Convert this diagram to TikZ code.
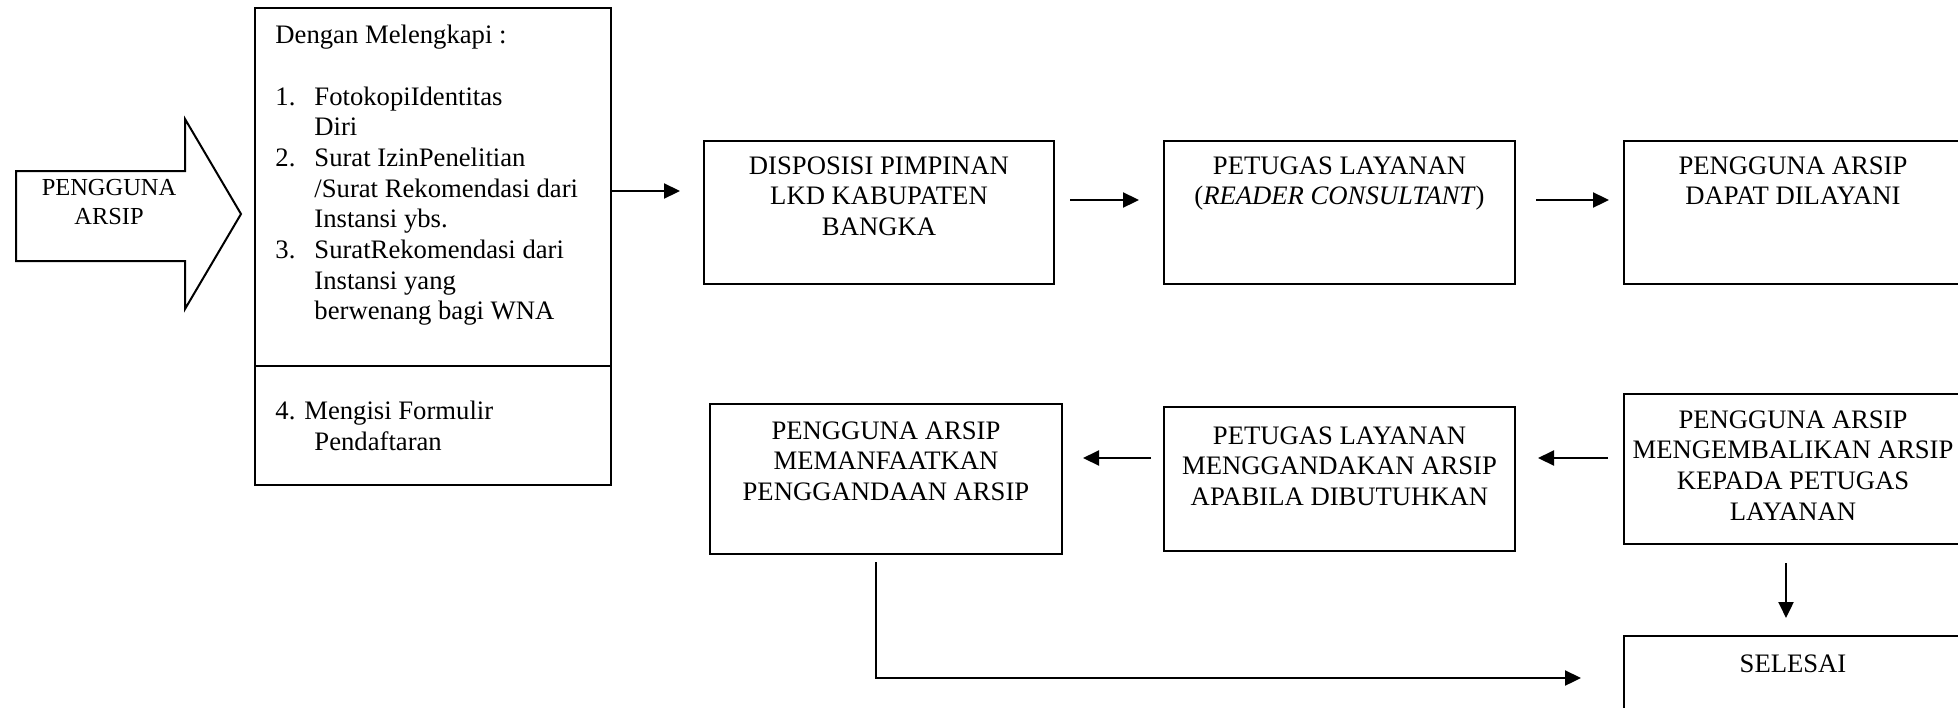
\documentclass[tikz,border=0pt]{standalone}
\usepackage{fontspec}
\setmainfont{Liberation Serif}
\usetikzlibrary{arrows.meta,fit,calc}
\begin{document}
\begin{tikzpicture}[x=0.45pt,y=-0.45pt,
  every node/.style={font=\fontsize{12}{13.8}\selectfont},
  boxnode/.style={draw, line width=0.9pt, inner sep=0pt, rectangle},
  txt/.style={inner sep=0pt, align=center, anchor=north},
  ltxt/.style={inner sep=0pt, align=left, anchor=north west},
  arr/.style={line width=1pt, -{Triangle[length=7.2pt,width=6.75pt]}},
  ln/.style={line width=0.9pt}]
\useasboundingbox (0,0) rectangle (1958,707);

% block arrow
\draw[ln] (16,171) -- (185,171) -- (185,119) -- (241,214) -- (185,309) -- (185,261) -- (16,261) -- cycle;
\node[inner sep=0pt, align=center, font=\fontsize{11}{12.65}\selectfont] (ua) at (109,202) {PENGGUNA\\ARSIP};

% left box
\node[boxnode, fit={(255,8) (611,485)}] (L) {};
\coordinate (dv) at (0,366);
\draw[ln] (L.west |- dv) -- (L.east |- dv);
\node[ltxt] (lt1) at (275,25) {Dengan Melengkapi :\\[13.8pt]
\makebox[17.55pt][l]{1.}FotokopiIdentitas\\
\hspace*{17.55pt}Diri\\
\makebox[17.55pt][l]{2.}Surat IzinPenelitian\\
\hspace*{17.55pt}/Surat Rekomendasi dari\\
\hspace*{17.55pt}Instansi ybs.\\
\makebox[17.55pt][l]{3.}SuratRekomendasi dari\\
\hspace*{17.55pt}Instansi yang\\
\hspace*{17.55pt}berwenang bagi WNA};
\node[ltxt] (lt2) at (275,401) {4. Mengisi Formulir\\
\hspace*{17.55pt}Pendaftaran};

% row 1 boxes
\node[boxnode, fit={(704,141) (1054,284)}] (D) {};
\node[txt] (Dt) at ([yshift=-7.2pt]D.north) {DISPOSISI PIMPINAN\\LKD KABUPATEN\\BANGKA};
\node[boxnode, fit={(1164,141) (1515,284)}] (P) {};
\node[txt] (Pt) at ([yshift=-7.2pt]P.north) {PETUGAS LAYANAN\\(\textit{READER CONSULTANT})};
\node[boxnode, fit={(1624,141) (1962,284)}] (Q) {};
\node[txt] (Qt) at ([yshift=-7.2pt]Q.north) {PENGGUNA ARSIP\\DAPAT DILAYANI};

% row 2 boxes
\node[boxnode, fit={(710,404) (1062,554)}] (M) {};
\node[txt] (Mt) at ([yshift=-8.1pt]M.north) {PENGGUNA ARSIP\\MEMANFAATKAN\\PENGGANDAAN ARSIP};
\node[boxnode, fit={(1164,407) (1515,551)}] (G) {};
\node[txt] (Gt) at ([yshift=-9pt]G.north) {PETUGAS LAYANAN\\MENGGANDAKAN ARSIP\\APABILA DIBUTUHKAN};
\node[boxnode, fit={(1624,394) (1962,544)}] (K) {};
\node[txt] (Kt) at ([yshift=-7.65pt]K.north) {PENGGUNA ARSIP\\MENGEMBALIKAN ARSIP\\KEPADA PETUGAS\\LAYANAN};
\node[boxnode, fit={(1624,636) (1962,720)}] (S) {};
\node[txt] (St) at ([yshift=-8.55pt]S.north) {SELESAI};

% connectors
\coordinate (r1) at (0,191);
\coordinate (r2) at (0,200);
\coordinate (r4) at (0,458);
\draw[arr, shorten >=10.35pt] (L.east |- r1) -- (D.west |- r1);
\draw[arr, shorten <=6.75pt, shorten >=10.8pt] (D.east |- r2) -- (P.west |- r2);
\draw[arr, shorten <=9pt, shorten >=6.3pt] (P.east |- r2) -- (Q.west |- r2);
\draw[arr, shorten <=6.75pt, shorten >=9.9pt] (K.west |- r4) -- (G.east |- r4);
\draw[arr, shorten <=5.4pt, shorten >=9pt] (G.west |- r4) -- (M.east |- r4);
\draw[arr, shorten <=8.1pt, shorten >=7.65pt] ([xshift=-3.15pt]K.south) -- ([xshift=-3.15pt]S.north);
\draw[arr, shorten >=18.9pt] ([xshift=-4.5pt,yshift=-3.15pt]M.south) |- (S.west);
\end{tikzpicture}
\end{document}
